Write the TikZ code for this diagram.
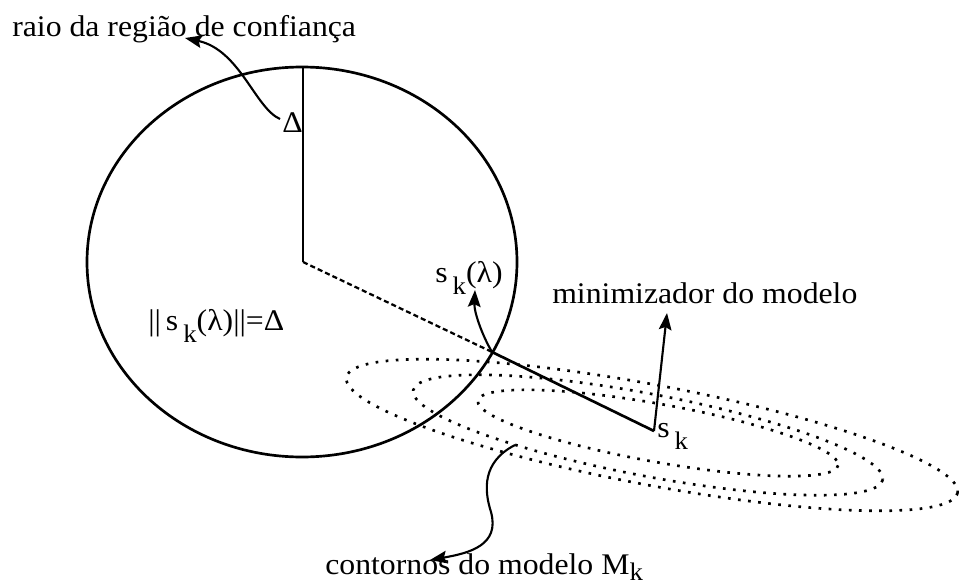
\documentclass[tikz,border=0pt]{standalone}
\usepackage{fontspec}
\setmainfont{Liberation Serif}[FakeStretch=1.06]
\usetikzlibrary{arrows.meta}
\newcommand{\subk}[1]{\raisebox{#1}{\fontsize{18}{18}\selectfont k}}

\begin{document}
\begin{tikzpicture}[x=0.025cm, y=-0.025cm,
  txt/.style={font=\fontsize{21.3}{24}\selectfont, inner sep=0pt, anchor=base west},
  bord/.style={line width=1.9pt},
  trac/.style={line width=1.6pt, dash pattern=on 3.6pt off 2.2pt},
  cont/.style={line width=1.9pt, dash pattern=on 1.9pt off 5.3pt},
  arr/.style={-{Stealth[length=12pt,width=9pt,inset=2pt]}, line width=1.5pt},
]
\useasboundingbox (0,0) rectangle (961,585);

\draw[bord] (302,262) ellipse [x radius=215, y radius=195];

\coordinate (c)   at (303,262);
\coordinate (top) at (303,67);
\coordinate (p)   at (492,352);
\coordinate (sk)  at (654,431);

\draw[bord] (top) -- (c);
\draw[trac] (c) -- (p);
\draw[bord] (p) -- (sk);

\draw[cont, shift={(652,435)}, rotate=-10.7] (0,0) ellipse [x radius=311, y radius=50];
\draw[cont, shift={(648,435)}, rotate=-10.8] (0,0) ellipse [x radius=239, y radius=41];
\draw[cont, shift={(658,433)}, rotate=-10.2] (0,0) ellipse [x radius=183, y radius=29];

\node[txt] (raio)  at (12,36)   {raio da região de confiança};
\node[txt] (delta) at (282,132) {Δ};
\node[txt] (norma) at (148,330) {||\,s\,\subk{-0.9ex}(λ)||=Δ};
\node[txt] (slam)  at (435,282) {s\,\subk{-0.9ex}(λ)};
\node[txt] (mini)  at (552,303) {minimizador do modelo};
\node[txt] (sklab) at (657,437) {s\,\subk{-0.9ex}};
\node[txt] (cont)  at (325,574) {contornos do modelo M\subk{-0.5ex}};

\coordinate (dtail)    at (280,119);
\coordinate (dhead)    at (185,38);
\coordinate (lamhead)  at (475,290);
\coordinate (minhead)  at (667,313);
\coordinate (conttail) at (515,445);
\coordinate (conthead) at (430,560);

\draw[arr] (dtail) .. controls (255,108) and (240,50) .. (dhead);
\draw[arr] (p) .. controls (482,335) and (474,312) .. (lamhead);
\draw[arr] (sk) -- (minhead);
\draw[arr] (conttail) .. controls (482,462) and (484,490) .. (491,512)
  .. controls (500,545) and (470,553) .. (conthead);
\end{tikzpicture}
\end{document}
